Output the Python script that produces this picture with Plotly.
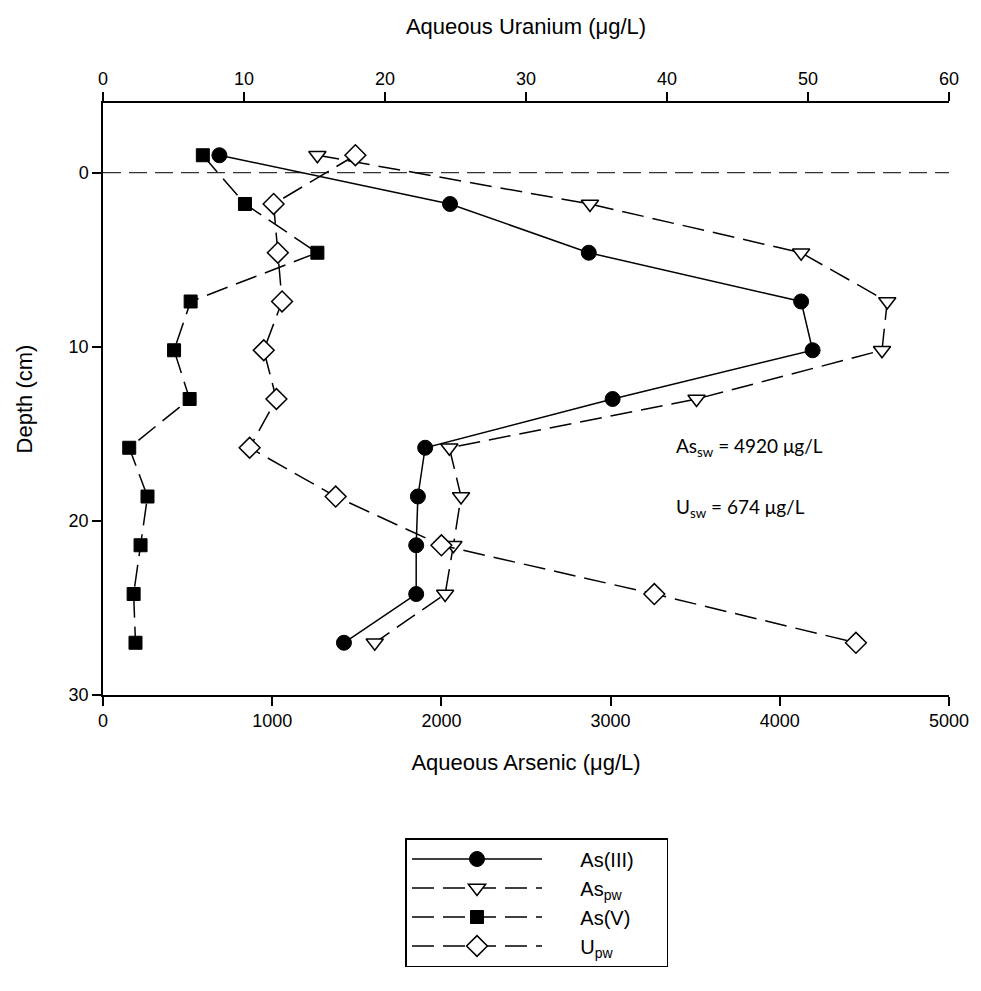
import plotly.graph_objects as go

depth = [-1.0, 1.8, 4.6, 7.4, 10.2, 13.0, 15.8, 18.6, 21.4, 24.2, 27.0]
as3 = [688, 2051, 2871, 4126, 4194, 3012, 1904, 1861, 1851, 1851, 1424]
as_pw = [1267, 2878, 4126, 4635, 4604, 3508, 2047, 2116, 2071, 2022, 1606]
as5 = [590, 839, 1267, 518, 420, 512, 155, 263, 222, 181, 192]
u_pw = [17.9, 12.1, 12.4, 12.7, 11.4, 12.3, 10.4, 16.5, 24.0, 39.1, 53.4]

x_ticks = [0, 1000, 2000, 3000, 4000, 5000]
u_ticks = [0, 10, 20, 30, 40, 50, 60]
y_ticks = [0, 10, 20, 30]

FONT = "Liberation Sans"
DASH = "22px,9px"
PAD = "\u00a0" * 6
TAIL = "\u00a0" * 5

fig = go.Figure()
fig.add_trace(go.Scatter(
    x=as3, y=depth, name=PAD + "As(III)" + TAIL, mode="lines+markers",
    line=dict(color="black", width=1.5),
    marker=dict(symbol="circle", size=15, color="black", line=dict(color="black", width=1)),
))
fig.add_trace(go.Scatter(
    x=as_pw, y=depth, name=PAD + "As<sub>pw</sub>", mode="lines+markers",
    line=dict(color="black", width=1.5, dash=DASH),
    marker=dict(symbol="triangle-down", size=15, color="white", line=dict(color="black", width=1.5)),
))
fig.add_trace(go.Scatter(
    x=as5, y=depth, name=PAD + "As(V)", mode="lines+markers",
    line=dict(color="black", width=1.5, dash=DASH),
    marker=dict(symbol="square", size=13, color="black", line=dict(color="black", width=1)),
))
fig.add_trace(go.Scatter(
    x=u_pw, y=depth, name=PAD + "U<sub>pw</sub>", mode="lines+markers", xaxis="x2",
    line=dict(color="black", width=1.5, dash=DASH),
    marker=dict(symbol="diamond", size=16, color="white", line=dict(color="black", width=1.5)),
))

fig.add_shape(type="line", xref="paper", yref="y", x0=0, x1=1, y0=0, y1=0,
              line=dict(color="#333333", width=1.2, dash="18px,8px"), layer="below")

axis_common = dict(showgrid=False, zeroline=False, showline=True, linecolor="black",
                   linewidth=1.5, ticks="outside", ticklen=9, tickwidth=1.5, tickcolor="black",
                   tickfont=dict(family=FONT, size=18, color="black"))

fig.update_layout(
    width=981, height=991,
    margin=dict(l=103, r=25, t=103, b=296),
    paper_bgcolor="white", plot_bgcolor="white",
    font=dict(family=FONT, color="black"),
    xaxis=dict(range=[0, 5000], tickvals=x_ticks, side="bottom",
               title=dict(text="Aqueous Arsenic (\u03bcg/L)", font=dict(family=FONT, size=22), standoff=24),
               **axis_common),
    xaxis2=dict(range=[0, 60], tickvals=u_ticks, side="top", overlaying="x", anchor="y",
                title=dict(text="Aqueous Uranium (\u03bcg/L)", font=dict(family=FONT, size=22), standoff=28),
                **axis_common),
    yaxis=dict(range=[30, -4], tickvals=y_ticks,
               title=dict(text="Depth (cm)", font=dict(family=FONT, size=22), standoff=30),
               **axis_common),
    showlegend=True,
    legend=dict(x=(408 - 103) / 853, xanchor="left", y=(695 - 838) / 592, yanchor="top",
                bordercolor="black", borderwidth=1.5, bgcolor="white",
                font=dict(family=FONT, size=20, color="black"),
                itemwidth=130, tracegroupgap=0, traceorder="normal"),
)

ann_font = dict(family="Lato", size=19, color="black")
fig.add_annotation(x=3376, y=15.75, xref="x", yref="y", xanchor="left", showarrow=False,
                   text="As<sub>sw</sub> = 4920 \u03bcg/L", font=ann_font)
fig.add_annotation(x=3376, y=19.25, xref="x", yref="y", xanchor="left", showarrow=False,
                   text="U<sub>sw</sub> = 674 \u03bcg/L", font=ann_font)

fig.write_html(
    "out.html",
    config={"displayModeBar": False},
    post_script="document.body.style.margin='0';document.body.style.overflow='hidden';",
)
